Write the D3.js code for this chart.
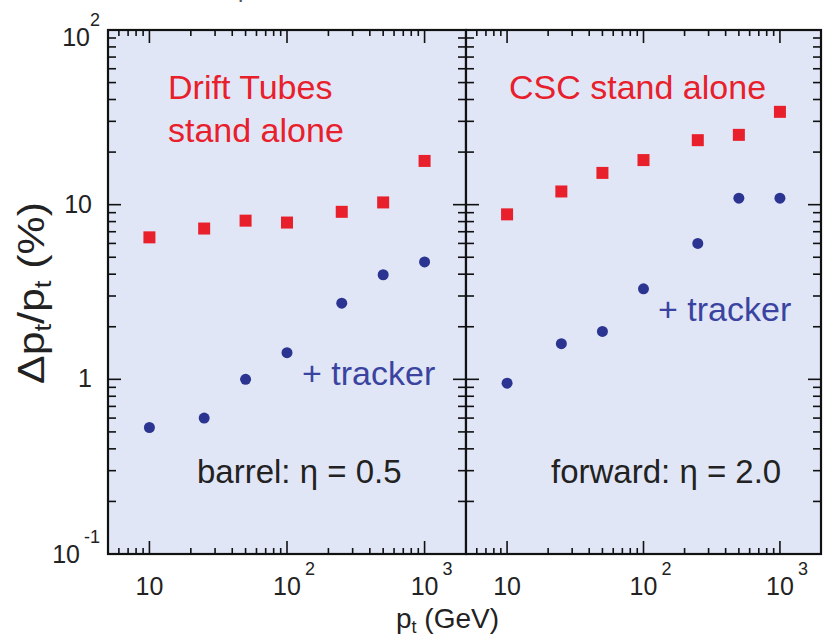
<!DOCTYPE html>
<html>
<head>
<meta charset="utf-8">
<script src="https://cdn.jsdelivr.net/npm/d3@7"></script>
<style>
  body { margin: 0; background: #fff; }
  text { font-family: "Liberation Sans", Arial, sans-serif; }
</style>
</head>
<body>
<div id="viz"></div>
<script>

// momentum values (GeV) shared by every series
var ptValues = [10, 25, 50, 100, 250, 500, 1000];

// barrel, eta = 0.5
var barrelStandAlone = [6.5, 7.3, 8.1, 7.9, 9.1, 10.3, 17.8];
var barrelTracker = [0.53, 0.60, 1.0, 1.42, 2.73, 3.97, 4.7];

// forward, eta = 2.0
var forwardStandAlone = [8.8, 11.9, 15.2, 18.0, 23.4, 25.1, 34.0];
var forwardTracker = [0.95, 1.60, 1.88, 3.30, 6.0, 10.9, 10.9];

// tick values / labels
var xMajor = [10, 100, 1000];
var xMajorLabels = [['10', ''], ['10', '2'], ['10', '3']];
var yMajor = [0.1, 1, 10, 100];
var yMajorLabels = [['10', '-1'], ['1', ''], ['10', ''], ['10', '2']];

var red = '#e8202b';
var blue = '#2b3591';

var svg = d3.select('#viz').append('svg')
	.attr('width', 824)
	.attr('height', 643);

var plotTop = 30, plotBottom = 554;

var yScale = d3.scaleLog().domain([0.1, 100]).range([plotBottom, plotTop]);

var panels = [
	{x0: 108, x1: 466, sa: barrelStandAlone, tr: barrelTracker,
	 title: ['Drift Tubes', 'stand alone'], titleX: 168,
	 trX: 302, trY: 385, label: ['barrel: ', ' = 0.5'], labelX: 197},
	{x0: 466, x1: 821, sa: forwardStandAlone, tr: forwardTracker,
	 title: ['CSC stand alone'], titleX: 509,
	 trX: 658, trY: 321, label: ['forward: ', ' = 2.0'], labelX: 551}
];

// minor tick values for the log axes
var xMinor = [];
[1, 10, 100, 1000].forEach(function(d) {
	for (var k = 2; k < 10; k++) { if (d * k >= 5 && d * k <= 2000) xMinor.push(d * k); }
});
var yMinor = [];
[0.1, 1, 10].forEach(function(d) {
	for (var k = 2; k < 10; k++) yMinor.push(d * k);
});

panels.forEach(function(p) {
	var xScale = d3.scaleLog().domain([5, 2000]).range([p.x0, p.x1]);
	var g = svg.append('g');

	// background
	g.append('rect')
		.attr('x', p.x0).attr('y', plotTop)
		.attr('width', p.x1 - p.x0).attr('height', plotBottom - plotTop)
		.attr('fill', '#e1e6f7');

	// ticks, drawn inward on all four sides
	var ticks = g.append('g').attr('stroke', '#111').attr('stroke-width', 1.6);
	xMinor.concat(xMajor).forEach(function(v) {
		var len = xMajor.indexOf(v) >= 0 ? 13 : 6;
		ticks.append('line').attr('x1', xScale(v)).attr('x2', xScale(v)).attr('y1', plotBottom).attr('y2', plotBottom - len);
		ticks.append('line').attr('x1', xScale(v)).attr('x2', xScale(v)).attr('y1', plotTop).attr('y2', plotTop + len);
	});
	yMinor.concat(yMajor).forEach(function(v) {
		var len = yMajor.indexOf(v) >= 0 ? 13 : 8;
		ticks.append('line').attr('x1', p.x0).attr('x2', p.x0 + len).attr('y1', yScale(v)).attr('y2', yScale(v));
		ticks.append('line').attr('x1', p.x1).attr('x2', p.x1 - len).attr('y1', yScale(v)).attr('y2', yScale(v));
	});

	// frame
	g.append('rect')
		.attr('x', p.x0).attr('y', plotTop)
		.attr('width', p.x1 - p.x0).attr('height', plotBottom - plotTop)
		.attr('fill', 'none')
		.attr('stroke', '#111')
		.attr('stroke-width', 2.2);

	// x tick labels
	xMajor.forEach(function(v, i) {
		g.append('text')
			.attr('x', xScale(v))
			.attr('y', 595)
			.attr('text-anchor', 'middle')
			.attr('font-size', 25)
			.attr('fill', '#222')
			.text(xMajorLabels[i][0]);
		if (xMajorLabels[i][1]) {
			g.append('text')
				.attr('x', xScale(v) + 18)
				.attr('y', 575)
				.attr('font-size', 18)
				.attr('fill', '#222')
				.text(xMajorLabels[i][1]);
		}
	});

	// stand alone points (squares)
	g.selectAll('.sq')
		.data(p.sa)
		.enter().append('rect')
		.attr('class', 'sq')
		.attr('x', function(d, i) { return xScale(ptValues[i]) - 6; })
		.attr('y', function(d) { return yScale(d) - 6; })
		.attr('width', 12)
		.attr('height', 12)
		.attr('fill', red);

	// stand alone + tracker points (circles)
	g.selectAll('.pt')
		.data(p.tr)
		.enter().append('circle')
		.attr('class', 'pt')
		.attr('cx', function(d, i) { return xScale(ptValues[i]); })
		.attr('cy', function(d) { return yScale(d); })
		.attr('r', 5.5)
		.attr('fill', blue);

	// annotations
	p.title.forEach(function(s, i) {
		g.append('text')
			.attr('x', p.titleX)
			.attr('y', 99 + i * 43)
			.attr('font-size', 34)
			.attr('fill', red)
			.text(s);
	});
	g.append('text')
		.attr('x', p.trX)
		.attr('y', p.trY)
		.attr('font-size', 34)
		.attr('fill', '#3a44a0')
		.text('+ tracker');
	var lab = g.append('text')
		.attr('x', p.labelX)
		.attr('y', 483)
		.attr('font-size', 33)
		.attr('fill', '#222');
	lab.append('tspan').text(p.label[0]);
	lab.append('tspan').text('\u03b7');
	lab.append('tspan').text(p.label[1]);
});

// y tick labels
yMajor.forEach(function(v, i) {
	var lbl = yMajorLabels[i];
	if (lbl[1]) {
		var off = v >= 100 ? 16 : 9;
		svg.append('text')
			.attr('x', v >= 100 ? 90 : 80)
			.attr('y', yScale(v) + off)
			.attr('text-anchor', 'end')
			.attr('font-size', 25)
			.attr('fill', '#222')
			.text(lbl[0]);
		svg.append('text')
			.attr('x', 100)
			.attr('y', yScale(v) + off - 20)
			.attr('text-anchor', 'end')
			.attr('font-size', 18)
			.attr('fill', '#222')
			.text(lbl[1]);
	} else {
		svg.append('text')
			.attr('x', 92)
			.attr('y', yScale(v) + 8)
			.attr('text-anchor', 'end')
			.attr('font-size', 25)
			.attr('fill', '#222')
			.text(lbl[0]);
	}
});

// x axis title
var xt = svg.append('text')
	.attr('x', 396)
	.attr('y', 628)
	.attr('font-size', 28)
	.attr('fill', '#222');
xt.append('tspan').text('p');
xt.append('tspan').attr('font-size', 18).attr('dy', 5).text('t');
xt.append('tspan').attr('dy', -5).text(' (GeV)');

// y axis title
var yt = svg.append('text')
	.attr('transform', 'translate(44,293) rotate(-90)')
	.attr('text-anchor', 'middle')
	.attr('font-size', 36)
	.attr('textLength', 182)
	.attr('lengthAdjust', 'spacingAndGlyphs')
	.attr('fill', '#222');
yt.append('tspan').text('\u0394p');
yt.append('tspan').attr('font-size', 23).attr('dy', 7).text('t');
yt.append('tspan').attr('dy', -7).text('/p');
yt.append('tspan').attr('font-size', 23).attr('dy', 7).text('t');
yt.append('tspan').attr('dy', -7).text(' (%)');

// descender of a cut-off title above the chart
svg.append('text')
	.attr('x', 238)
	.attr('y', -3)
	.attr('font-size', 24)
	.attr('fill', '#555')
	.text('p');

</script>
</body>
</html>
